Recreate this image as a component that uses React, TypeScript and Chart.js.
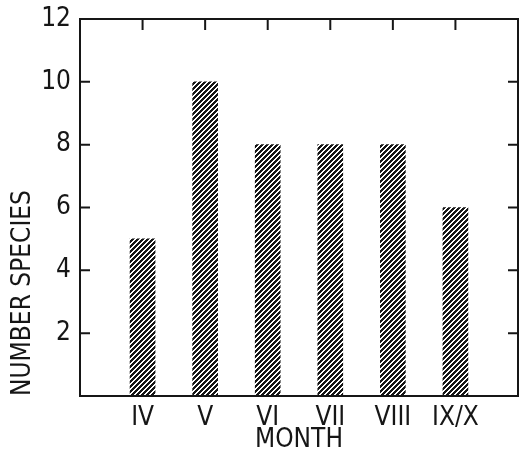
import React, { useEffect, useRef } from "react";
import { Chart, registerables } from "chart.js";

Chart.register(...registerables);

const months = ["IV", "V", "VI", "VII", "VIII", "IX/X"];
const speciesCounts = [5, 10, 8, 8, 8, 6];
const yTicks = [2, 4, 6, 8, 10, 12];

const FONT = "'DejaVu Sans Condensed', 'Liberation Sans', sans-serif";
const INK = "#161616";

function makeHatch(): CanvasPattern | string {
  const size = 5;
  const c = document.createElement("canvas");
  c.width = size;
  c.height = size;
  const ctx = c.getContext("2d");
  if (!ctx) return INK;
  const img = ctx.createImageData(size, size);
  for (let y = 0; y < size; y++) {
    for (let x = 0; x < size; x++) {
      const i = (y * size + x) * 4;
      const on = (x + y) % size < 3;
      img.data[i] = on ? 22 : 255;
      img.data[i + 1] = on ? 22 : 255;
      img.data[i + 2] = on ? 22 : 255;
      img.data[i + 3] = 255;
    }
  }
  ctx.putImageData(img, 0, 0);
  return ctx.createPattern(c, "repeat") || INK;
}

const frameTicks = {
  id: "frameTicks",
  afterDraw(chart: any) {
    const { ctx, chartArea } = chart;
    const { left, right, top, bottom } = chartArea;
    const xs = chart.scales.x;
    const ys = chart.scales.y;
    ctx.save();
    ctx.strokeStyle = INK;
    ctx.lineWidth = 2;
    ctx.strokeRect(left, top, right - left, bottom - top);
    ctx.beginPath();
    yTicks.forEach((v) => {
      const py = ys.getPixelForValue(v);
      ctx.moveTo(left, py);
      ctx.lineTo(left + 10, py);
      ctx.moveTo(right, py);
      ctx.lineTo(right - 10, py);
    });
    months.forEach((_, i) => {
      const px = xs.getPixelForValue(i + 1);
      ctx.moveTo(px, top);
      ctx.lineTo(px, top + 11);
    });
    ctx.stroke();
    ctx.restore();
  },
};

export default function App() {
  const ref = useRef<HTMLCanvasElement | null>(null);
  useEffect(() => {
    document.body.style.margin = "0";
    if (!ref.current) return;
    const hatch = makeHatch();
    const chart = new Chart(ref.current, {
      type: "bar",
      data: {
        datasets: [
          {
            data: speciesCounts.map((v, i) => ({ x: i + 1, y: v })),
            backgroundColor: hatch as any,
            borderWidth: 0,
            barThickness: 25,
          },
        ],
      },
      options: {
        animation: false,
        responsive: false,
        maintainAspectRatio: false,
        plugins: { legend: { display: false }, tooltip: { enabled: false } },
        layout: { padding: { top: 19, right: 2, left: 0, bottom: 0 } },
        scales: {
          x: {
            type: "linear",
            offset: false,
            min: 0,
            max: 7,
            grid: { display: false, drawTicks: false, offset: false },
            border: { display: false },
            afterFit: (s: any) => {
              s.height = 55;
              s.paddingLeft = 0;
              s.paddingRight = 0;
            },
            ticks: {
              stepSize: 1,
              autoSkip: false,
              maxRotation: 0,
              padding: 7,
              color: INK,
              font: { family: FONT, size: 26 },
              callback: (v: any) => months[Number(v) - 1] ?? "",
            },
            title: {
              display: true,
              text: "MONTH",
              color: INK,
              font: { family: FONT, size: 26, lineHeight: 1 },
              padding: { top: 0, bottom: -2 },
            },
          },
          y: {
            min: 0,
            max: 12,
            grid: { display: false, drawTicks: false },
            border: { display: false },
            afterFit: (s: any) => {
              s.width = 80;
              s.paddingTop = 0;
              s.paddingBottom = 0;
            },
            ticks: {
              stepSize: 2,
              padding: 9,
              color: INK,
              font: { family: FONT, size: 26 },
              callback: (v: any) => (Number(v) === 0 ? "" : String(v)),
            },
            title: {
              display: true,
              text: "NUMBER SPECIES",
              align: "start",
              color: INK,
              font: { family: FONT, size: 26 },
              padding: { top: 8, bottom: 0 },
            },
          },
        },
      },
      plugins: [frameTicks],
    });
    return () => chart.destroy();
  }, []);
  return (
    <div style={{ position: "absolute", left: 0, top: 0, width: 520, height: 451, background: "#fff" }}>
      <canvas ref={ref} width={520} height={451} style={{ width: 520, height: 451, display: "block" }} />
    </div>
  );
}
